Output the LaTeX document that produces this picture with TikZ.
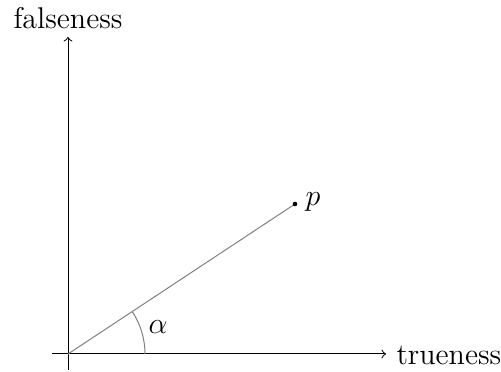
\documentclass[tikz,border=0pt]{standalone}
\begin{document}
\begin{tikzpicture}[x=0.4pt,y=-0.4pt,
  font=\large,
  axis/.style={->, line width=0.4pt},
  lbl/.style={inner sep=0pt}]
\useasboundingbox (0,0) rectangle (501,372);
\coordinate (O) at (68,354);
\coordinate (xs) at (52,354);
\coordinate (xe) at (386,354);
\coordinate (ys) at (68,370);
\coordinate (ye) at (68,37);
\draw[axis] (xs) -- (xe);
\draw[axis] (ys) -- (ye);
\node[lbl, anchor=west] (tx) at (396,355) {trueness};
\node[lbl, anchor=south] (fx) at (68,29) {falseness};
\coordinate (p) at (295,204);
\draw[gray] (O) -- (p);
\fill (p) circle (2.3);
\node[lbl, anchor=west] (pl) at (305,202) {$p$};
\draw[gray] (145,354) arc[start angle=0, end angle=-33.46, radius=77];
\node[lbl] (al) at (158,327) {$\alpha$};
\end{tikzpicture}
\end{document}
